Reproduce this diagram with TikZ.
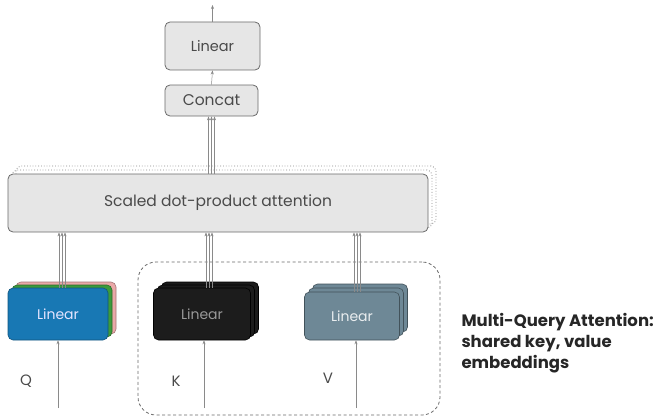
\documentclass[tikz,border=0pt]{standalone}
\usepackage{fontspec}
\setmainfont{Poppins}
\usetikzlibrary{arrows.meta}
\definecolor{boxfill}{HTML}{E6E6E6}
\definecolor{boxline}{HTML}{6A6A6A}
\definecolor{txt}{HTML}{4A4A4A}
\definecolor{arr}{HTML}{8A8A8A}
\definecolor{qblue}{HTML}{1878B4}
\definecolor{qgreen}{HTML}{3C9A3C}
\definecolor{qpink}{HTML}{EAA8A8}
\definecolor{kblack}{HTML}{1C1C1C}
\definecolor{vgray}{HTML}{6E8896}
\tikzset{
  graybox/.style={draw=boxline, fill=boxfill, rounded corners=5pt, line width=0.8pt, text=txt, inner sep=0pt},
  linbox/.style={rounded corners=5pt, line width=0.6pt, inner sep=0pt, minimum width=#1},
  conn/.style={draw=arr, line width=0.5pt, -{Stealth[length=4pt,width=3pt]}},
  shadowbox/.style={draw=arr, dotted, line width=0.8pt, rounded corners=5pt, minimum width=420pt, minimum height=58pt},
}
\begin{document}
\begin{tikzpicture}[x=1pt,y=-1pt]
\useasboundingbox (0,0) rectangle (672,420);
% top
\node[graybox, minimum width=95pt, minimum height=48pt, font=\fontsize{14.5}{16}\selectfont] (lin) at (212.5,46) {Linear};
\node[graybox, minimum width=93pt, minimum height=31pt, font=\fontsize{15.5}{17}\selectfont] (cat) at (211.5,100.5) {Concat};
% sdpa shadows
\node[shadowbox] (sh2) at (226,195) {};
\node[shadowbox] (sh1) at (222,199) {};
\node[graybox, minimum width=420pt, minimum height=58pt, font=\fontsize{15.5}{18}\selectfont] (sdpa) at (218,203) {Scaled dot-product attention};
% Q
\node[linbox=100pt, minimum height=52pt, fill=qpink, draw=qpink!70!black] (qp) at (66,308) {};
\node[linbox=100pt, minimum height=52pt, fill=qgreen, draw=qgreen!70!black] (qg) at (62,311) {};
\node[linbox=100pt, minimum height=52pt, fill=qblue, draw=qblue!70!black, text=blue!10!white, font=\fontsize{14}{16}\selectfont] (qf) at (58,314) {Linear};
% K
\node[linbox=97pt, minimum height=52pt, fill=kblack, draw=black] (kb2) at (210,308) {};
\node[linbox=97pt, minimum height=52pt, fill=kblack, draw=black] (kb1) at (206,311) {};
\node[linbox=97pt, minimum height=52pt, fill=kblack, draw=black, text=gray!80!white, font=\fontsize{14}{16}\selectfont] (kf) at (202,314) {Linear};
% V
\node[linbox=95pt, minimum height=48pt, fill=vgray, draw=vgray!60!black] (vb2) at (360,308) {};
\node[linbox=95pt, minimum height=48pt, fill=vgray, draw=vgray!60!black] (vb1) at (356,312) {};
\node[linbox=95pt, minimum height=48pt, fill=vgray, draw=vgray!60!black, text=white!85!vgray, font=\fontsize{14}{16}\selectfont] (vf) at (352,316) {Linear};
% dashed group
\node[draw=boxline, dash pattern=on 3pt off 2.5pt, line width=0.8pt, rounded corners=18pt, minimum width=302pt, minimum height=153pt, inner sep=0pt] (grp) at (289,338.5) {};
% labels
\node[text=txt, font=\fontsize{15}{17}\selectfont] (ql) at (26,381) {Q};
\node[text=txt, font=\fontsize{15}{17}\selectfont] (kl) at (176,381) {K};
\node[text=txt, font=\fontsize{15}{17}\selectfont] (vl) at (328,378) {V};
\node[anchor=west, align=left, font=\bfseries\fontsize{16.5}{21}\selectfont, text=black!85] (note) at (458,343) {Multi-Query Attention:\\shared key, value\\embeddings};
% inputs
\coordinate (qin) at (58,408);
\coordinate (kin) at (204,408);
\coordinate (vin) at (356,408);
\draw[conn] (qin) -- (qin |- qf.south);
\draw[conn] (kin) -- (kin |- kf.south);
\draw[conn] (vin) -- (vin |- vf.south);
% up to sdpa
\foreach \d in {-3,0,3}{
  \draw[conn] ([xshift=\d pt+4pt]qf.north) -- ([xshift=\d pt+4pt]qf.north |- sdpa.south);
  \draw[conn] ([xshift=\d pt+7pt]kf.north) -- ([xshift=\d pt+7pt]kf.north |- sdpa.south);
  \draw[conn] ([xshift=\d pt+5pt]vf.north) -- ([xshift=\d pt+5pt]vf.north |- sdpa.south);
  \draw[conn] ([xshift=\d pt]cat.south |- sdpa.north) -- ([xshift=\d pt]cat.south);
}
\draw[conn] (cat.north) -- (lin.south);
\coordinate (out) at (212.5,5);
\draw[conn] (lin.north) -- (out);
\end{tikzpicture}
\end{document}
